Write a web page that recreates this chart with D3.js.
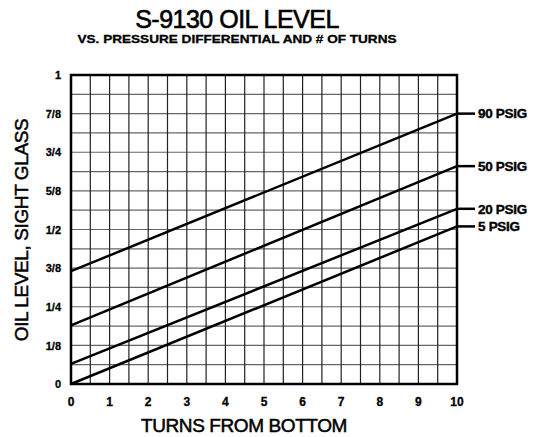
<!DOCTYPE html>
<html>
<head>
<meta charset="utf-8">
<script src="https://cdn.jsdelivr.net/npm/d3@7"></script>
<style>
  body { margin: 0; background: #fff; }
  text { font-family: "Liberation Sans", Arial, sans-serif; fill: #000; }
</style>
</head>
<body>
<svg id="chart" width="534" height="437"></svg>
<script>
// chart values
const turns = [0, 10];
const seriesNames = ["90 PSIG", "50 PSIG", "20 PSIG", "5 PSIG"];
const level90 = [0.365, 0.875];
const level50 = [0.19, 0.705];
const level20 = [0.065, 0.567];
const level5 = [0, 0.51];
const xTicks = [0, 1, 2, 3, 4, 5, 6, 7, 8, 9, 10];
const yTickValues = [0, 0.125, 0.25, 0.375, 0.5, 0.625, 0.75, 0.875, 1];
const yTickLabels = ["0", "1/8", "1/4", "3/8", "1/2", "5/8", "3/4", "7/8", "1"];

const svg = d3.select("#chart");

// plot area (window.top is taken, so plotTop etc.)
const plotLeft = 71, plotRight = 457, plotTop = 75, plotBottom = 384;
const x = d3.scaleLinear().domain([0, 10]).range([plotLeft, plotRight]);
const y = d3.scaleLinear().domain([0, 1]).range([plotBottom, plotTop]);

// grid: every half turn, every 1/16
const g = svg.append("g");
g.selectAll(".hgrid")
  .data(d3.range(0, 17).map(i => i / 16))
  .enter().append("line")
  .attr("x1", plotLeft).attr("x2", plotRight)
  .attr("y1", d => y(d)).attr("y2", d => y(d))
  .attr("stroke", "#666").attr("stroke-width", 1.2);
g.selectAll(".vgrid")
  .data(d3.range(0, 21).map(i => i / 2))
  .enter().append("line")
  .attr("y1", plotTop).attr("y2", plotBottom)
  .attr("x1", d => x(d)).attr("x2", d => x(d))
  .attr("stroke", "#222").attr("stroke-width", 1.2);

// border
svg.append("rect")
  .attr("x", plotLeft).attr("y", plotTop)
  .attr("width", plotRight - plotLeft).attr("height", plotBottom - plotTop)
  .attr("fill", "none").attr("stroke", "#000").attr("stroke-width", 2.5);

// the four lines
const allLevels = [level90, level50, level20, level5];
const line = d3.line().x(d => x(d[0])).y(d => y(d[1]));
allLevels.forEach((lv, i) => {
  const pts = turns.map((t, j) => [t, lv[j]]);
  svg.append("path")
    .attr("d", line(pts))
    .attr("fill", "none").attr("stroke", "#000").attr("stroke-width", 2.5);

  // leader + label on the right
  const ye = y(lv[lv.length - 1]);
  svg.append("line")
    .attr("x1", plotRight).attr("x2", plotRight + 18)
    .attr("y1", ye).attr("y2", ye)
    .attr("stroke", "#000").attr("stroke-width", 2.5);
  svg.append("text")
    .attr("x", plotRight + 21).attr("y", ye)
    .attr("dy", "0.36em")
    .attr("font-size", 13.5).attr("font-weight", "bold")
    .attr("stroke", "#000").attr("stroke-width", 0.4)
    .attr("letter-spacing", -0.3)
    .text(seriesNames[i]);
});

// y tick labels
svg.append("g").selectAll("text")
  .data(yTickValues)
  .enter().append("text")
  .attr("x", 61).attr("y", d => y(d))
  .attr("dy", "0.38em")
  .attr("text-anchor", "end")
  .attr("font-size", 11).attr("font-weight", "bold")
  .attr("stroke", "#000").attr("stroke-width", 0.3)
  .text((d, i) => yTickLabels[i]);

// x tick labels
svg.append("g").selectAll("text")
  .data(xTicks)
  .enter().append("text")
  .attr("x", d => x(d)).attr("y", 406)
  .attr("text-anchor", "middle")
  .attr("font-size", 12).attr("font-weight", "bold")
  .attr("stroke", "#000").attr("stroke-width", 0.3)
  .text(d => d);

// titles
svg.append("text")
  .attr("x", 237).attr("y", 28)
  .attr("text-anchor", "middle")
  .attr("font-size", 25)
  .attr("stroke", "#000").attr("stroke-width", 0.6)
  .attr("letter-spacing", -0.5)
  .text("S-9130 OIL LEVEL");

svg.append("text")
  .attr("x", 237).attr("y", 43)
  .attr("text-anchor", "middle")
  .attr("font-size", 11).attr("font-weight", "bold")
  .attr("stroke", "#000").attr("stroke-width", 0.3)
  .attr("textLength", 319).attr("lengthAdjust", "spacingAndGlyphs")
  .text("VS. PRESSURE DIFFERENTIAL AND # OF TURNS");

svg.append("text")
  .attr("x", 244).attr("y", 432)
  .attr("text-anchor", "middle")
  .attr("font-size", 19)
  .attr("stroke", "#000").attr("stroke-width", 0.5)
  .attr("letter-spacing", -0.4)
  .text("TURNS FROM BOTTOM");

svg.append("text")
  .attr("transform", "translate(28,230) rotate(-90)")
  .attr("text-anchor", "middle")
  .attr("font-size", 19)
  .attr("stroke", "#000").attr("stroke-width", 0.5)
  .attr("letter-spacing", -0.4)
  .text("OIL LEVEL, SIGHT GLASS");
</script>
</body>
</html>
